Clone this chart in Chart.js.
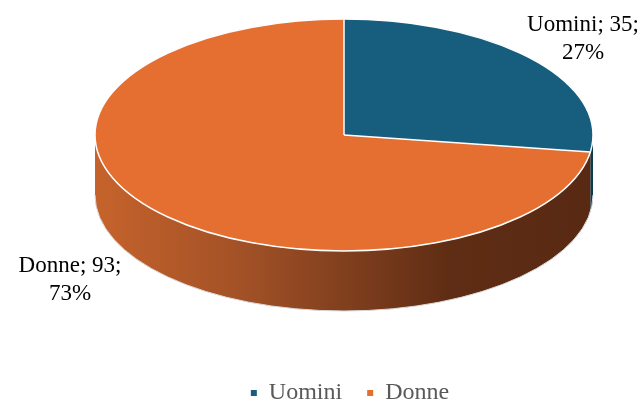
<!DOCTYPE html>
<html>
<head>
<meta charset="utf-8">
<script src="https://cdn.jsdelivr.net/npm/chart.js@4"></script>
<style>
  html, body { margin: 0; padding: 0; background: #ffffff; }
  #wrap { width: 643px; height: 405px; }
</style>
</head>
<body>
<div id="wrap"><canvas id="c" width="643" height="405"></canvas></div>
<script>
// ---- data ----
const CATEGORIES = ['Uomini', 'Donne'];
const VALUES = [35, 93];

// ---- style / layout ----
const COLORS = ['#175E7E', '#E46F31'];
const SIDE_COLORS = [
  [['0', '#2A7396'], ['1', '#0E3A4E']],
  [['0', '#C6632C'], ['0.31', '#A05026'], ['0.71', '#5F2D14'], ['1', '#582913']]
];
const FONT = 'Liberation Serif, Times New Roman, serif';
const TILT = { cx: 344, cy: 135, rx: 249, ry: 116, depth: 60 };
const LABEL_POS = [[583, 31], [70, 272]]; // first-line baselines of data labels
const LINE_H = 28;

const total = VALUES.reduce((a, b) => a + b, 0);

function frontRanges(s, e) {
  const out = [];
  for (const k of [-1, 0, 1]) {
    const a = Math.max(s + k * 2 * Math.PI, 0);
    const b = Math.min(e + k * 2 * Math.PI, Math.PI);
    if (b > a) out.push([a, b]);
  }
  return out;
}

const tiltPlugin = {
  id: 'tilt3d',
  beforeDatasetsDraw(chart) {
    const ctx = chart.ctx;
    const meta = chart.getDatasetMeta(0);
    const { cx, cy, rx, ry, depth } = TILT;
    // sides (extrusion) for front-facing part of each slice
    meta.data.forEach((arc, i) => {
      const ranges = frontRanges(arc.startAngle, arc.endAngle);
      ranges.forEach(([a, b]) => {
        const g = ctx.createLinearGradient(cx - rx, 0, cx + rx, 0);
        SIDE_COLORS[i].forEach(([o, c]) => g.addColorStop(parseFloat(o), c));
        ctx.save();
        ctx.beginPath();
        ctx.ellipse(cx, cy, rx, ry, 0, a, b, false);
        ctx.lineTo(cx + rx * Math.cos(b), cy + depth + ry * Math.sin(b));
        ctx.ellipse(cx, cy + depth, rx, ry, 0, b, a, true);
        ctx.closePath();
        ctx.fillStyle = g;
        ctx.fill();
        ctx.restore();
      });
    });
    // bottom edge highlight
    ctx.save();
    ctx.beginPath();
    ctx.ellipse(cx, cy + depth, rx, ry, 0, 0, Math.PI, false);
    ctx.strokeStyle = '#d9d9d9';
    ctx.lineWidth = 1;
    ctx.stroke();
    ctx.restore();
    // tilt transform for the library-drawn top face
    const a0 = meta.data[0];
    const R = a0.outerRadius;
    ctx.save();
    ctx.translate(cx, cy);
    ctx.scale(rx / R, ry / R);
    ctx.translate(-a0.x, -a0.y);
  },
  afterDatasetsDraw(chart) {
    const ctx = chart.ctx;
    ctx.restore();
    const meta = chart.getDatasetMeta(0);
    const { cx, cy, rx, ry } = TILT;
    // white outlines in screen space
    ctx.save();
    ctx.strokeStyle = '#ffffff';
    ctx.lineWidth = 1.5;
    ctx.beginPath();
    ctx.ellipse(cx, cy, rx, ry, 0, 0, Math.PI * 2);
    ctx.stroke();
    meta.data.forEach(arc => {
      ctx.beginPath();
      ctx.moveTo(cx, cy);
      ctx.lineTo(cx + rx * Math.cos(arc.startAngle), cy + ry * Math.sin(arc.startAngle));
      ctx.stroke();
    });
    ctx.restore();
    // data labels
    ctx.save();
    ctx.font = '23px ' + FONT;
    ctx.fillStyle = '#000000';
    ctx.textAlign = 'center';
    ctx.textBaseline = 'alphabetic';
    CATEGORIES.forEach((cat, i) => {
      const pct = Math.round(VALUES[i] / total * 100);
      const [x, y] = LABEL_POS[i];
      ctx.fillText(cat + '; ' + VALUES[i] + ';', x, y);
      ctx.fillText(pct + '%', x, y + LINE_H);
    });
    ctx.restore();
  }
};

new Chart(document.getElementById('c'), {
  type: 'pie',
  data: {
    labels: CATEGORIES,
    datasets: [{
      data: VALUES,
      backgroundColor: COLORS,
      borderWidth: 0
    }]
  },
  options: {
    responsive: false,
    devicePixelRatio: 1,
    animation: false,
    layout: { padding: { top: 0, bottom: -10, left: 57, right: 0 } },
    plugins: {
      tooltip: { enabled: false },
      legend: {
        position: 'bottom',
        labels: {
          boxWidth: 6,
          boxHeight: 6,
          padding: 25,
          color: '#595959',
          font: { family: FONT, size: 24 }
        }
      }
    }
  },
  plugins: [tiltPlugin]
});
</script>
</body>
</html>
